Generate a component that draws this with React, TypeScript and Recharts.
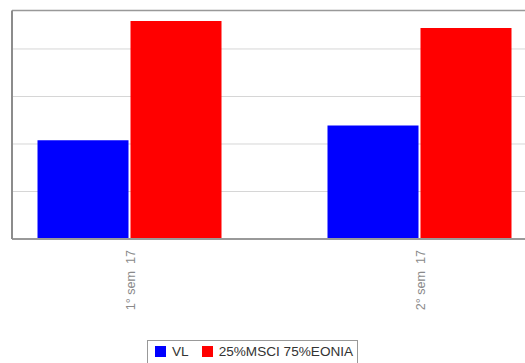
import { BarChart, Bar, XAxis, YAxis, CartesianGrid, ReferenceLine } from 'recharts'

const categories = ['1° sem  17', '2° sem  17']
const vl = [2.08, 2.39]
const benchmark = [4.59, 4.44]
const yTicks = [0, 1, 2, 3, 4]
const yMax = 4.81

const seriesList = [
  { key: 'vl', name: 'VL', color: '#0000ff' },
  { key: 'bench', name: '25%MSCI 75%EONIA', color: '#ff0000' },
]

const data = categories.map((c, i) => ({ idx: i, label: c, vl: vl[i], bench: benchmark[i] }))

const font = '"Liberation Sans", Arial, Helvetica, sans-serif'

function SemTick({ x, y, payload }: any) {
  const ty = y + 3
  return (
    <text
      x={x}
      y={ty}
      dy="0.45em"
      transform={`rotate(-90, ${x}, ${ty})`}
      textAnchor="end"
      fill="#8a8a8a"
      fontSize={12.6}
      fontFamily={font}
      style={{ whiteSpace: 'pre' }}
    >
      {categories[payload.value]}
    </text>
  )
}

// y ticks only feed the grid, no labels are shown
const NoTick = () => <g />

function LegendBox() {
  return (
    <div
      style={{
        position: 'absolute',
        left: 147,
        top: 340,
        height: 26,
        boxSizing: 'border-box',
        border: '1px solid #999',
        display: 'flex',
        alignItems: 'center',
        padding: '0 4px 4px 7px',
        fontFamily: font,
        fontSize: 13.6,
        color: '#333',
      }}
    >
      {seriesList.map((s, i) => (
        <span key={s.key} style={{ display: 'flex', alignItems: 'center', marginLeft: i ? 13 : 0 }}>
          <span style={{ width: 11, height: 11, background: s.color, marginRight: 6 }} />
          {s.name}
        </span>
      ))}
    </div>
  )
}

export default function App() {
  return (
    <div style={{ position: 'absolute', left: 0, top: 0, width: 525, height: 363, overflow: 'hidden', background: '#fff' }}>
      <BarChart
        width={525}
        height={363}
        data={data}
        margin={{ top: 10.5, right: 0, bottom: 0, left: 0 }}
        barSize={91}
        barGap={2}
      >
        <CartesianGrid vertical={false} stroke="#d6d6d6" strokeWidth={1} />
        <XAxis
          type="number"
          dataKey="idx"
          domain={[-0.4052, 1.3638]}
          allowDataOverflow
          ticks={[0, 1]}
          height={124}
          tickLine={false}
          axisLine={{ stroke: '#999', strokeWidth: 2 }}
          tick={<SemTick />}
          interval={0}
        />
        <YAxis
          domain={[0, yMax]}
          ticks={yTicks}
          allowDataOverflow
          width={12}
          tick={NoTick}
          tickLine={false}
          axisLine={{ stroke: '#8c8c8c', strokeWidth: 2 }}
        />
        <ReferenceLine y={yMax} stroke="#999" strokeWidth={1.5} />
        {seriesList.map((s) => (
          <Bar key={s.key} dataKey={s.key} name={s.name} fill={s.color} isAnimationActive={false} />
        ))}
      </BarChart>
      <LegendBox />
    </div>
  )
}
